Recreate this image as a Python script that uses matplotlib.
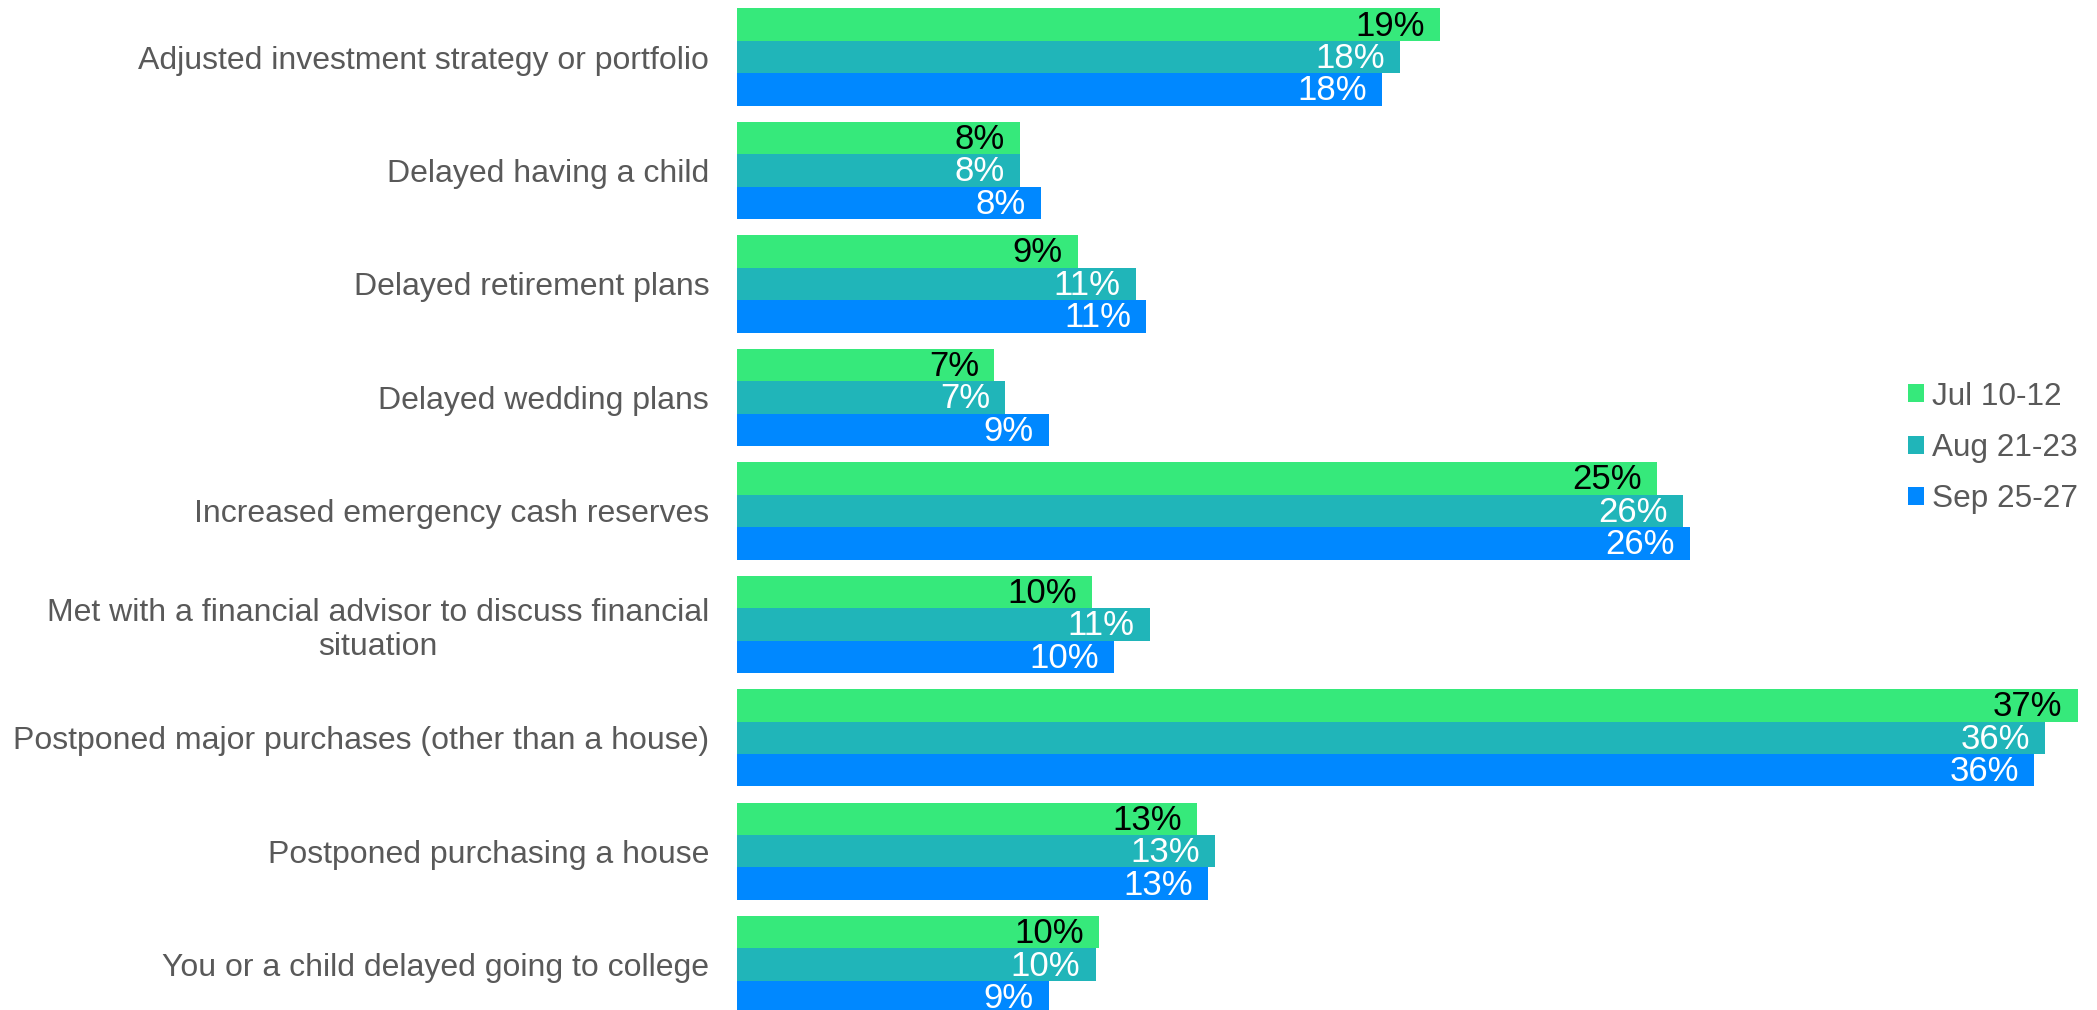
import matplotlib
matplotlib.use("Agg")
import matplotlib.pyplot as plt
from matplotlib.patches import Patch
import numpy as np

plt.rcParams['font.family'] = ['Liberation Sans', 'DejaVu Sans']

categories = [
    "Adjusted investment strategy or portfolio",
    "Delayed having a child",
    "Delayed retirement plans",
    "Delayed wedding plans",
    "Increased emergency cash reserves",
    "Met with a financial advisor to discuss financial\nsituation",
    "Postponed major purchases (other than a house)",
    "Postponed purchasing a house",
    "You or a child delayed going to college",
]
series_names = ["Jul 10-12", "Aug 21-23", "Sep 25-27"]
jul = [19.4, 7.8, 9.4, 7.1, 25.4, 9.8, 37.0, 12.7, 10.0]
aug = [18.3, 7.8, 11.0, 7.4, 26.1, 11.4, 36.1, 13.2, 9.9]
sep = [17.8, 8.4, 11.3, 8.6, 26.3, 10.4, 35.8, 13.0, 8.6]

colors = ["#36E97B", "#20B5B9", "#0088FF"]
label_colors = ["black", "white", "white"]

fig = plt.figure(figsize=(20.97, 10.10), dpi=100)
ax = fig.add_axes([737 / 2097, 0, 1 - 737 / 2097, 1])

y = np.arange(len(categories))
h = 0.286
for i, vals in enumerate([jul, aug, sep]):
    pos = y + (i - 1) * h
    bars = ax.barh(pos, vals, height=h, color=colors[i], edgecolor="none")
    for b, v in zip(bars, vals):
        ax.annotate(f"{v:.0f}%", (b.get_width(), b.get_y() + b.get_height() / 2),
                    xytext=(-11, -1), textcoords="offset points",
                    ha="right", va="center", fontsize=25, color=label_colors[i])

ax.set_xlim(0, 37.53)
ax.set_ylim(8.40, -0.503)
ax.set_yticks(y)
ax.set_yticklabels(categories, fontsize=23, color="#595959")
for lbl in ax.get_yticklabels():
    lbl.set_multialignment("center")
ax.tick_params(axis="y", length=0, pad=20)
ax.set_xticks([])
for s in ax.spines.values():
    s.set_visible(False)

handles = [Patch(facecolor=c, edgecolor="none") for c in colors]
fig.legend(handles, series_names, loc="center left",
           bbox_to_anchor=(1908 / 2097, 1 - 448 / 1010), frameon=False,
           fontsize=22.7, labelcolor="#595959", handlelength=0.51, handleheight=0.51,
           handletextpad=0.25, labelspacing=0.68, borderaxespad=0, borderpad=0)

fig.savefig("out.png", dpi=100)
